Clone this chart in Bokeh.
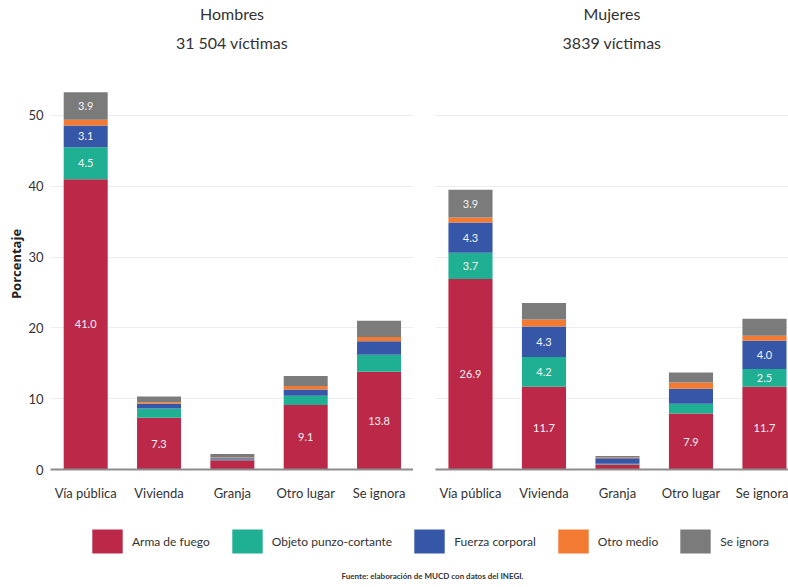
from bokeh.plotting import figure
from bokeh.models import (ColumnDataSource, FixedTicker, Range1d, Title, Legend,
                          LegendItem, Label)
from bokeh.layouts import row, column
from bokeh.core.properties import value
from bokeh.embed import file_html
from bokeh.resources import INLINE

# ---------------- data ----------------
categorias = ["Vía pública", "Vivienda", "Granja", "Otro lugar", "Se ignora"]
series = ["Arma de fuego", "Objeto punzo-cortante", "Fuerza corporal", "Otro medio", "Se ignora"]
colores = ["#BC2848", "#1FAF92", "#3656A8", "#F27A32", "#7B7B7B"]

arma_h = [41.0, 7.3, 1.3, 9.1, 13.8]
objeto_h = [4.5, 1.3, 0.1, 1.3, 2.4]
fuerza_h = [3.1, 0.7, 0.2, 0.9, 1.9]
otro_h = [0.8, 0.2, 0.1, 0.5, 0.6]
ignora_h = [3.9, 0.8, 0.5, 1.4, 2.3]

arma_m = [26.9, 11.7, 0.7, 7.9, 11.7]
objeto_m = [3.7, 4.2, 0.1, 1.4, 2.5]
fuerza_m = [4.3, 4.3, 0.8, 2.1, 4.0]
otro_m = [0.7, 1.0, 0.1, 0.9, 0.7]
ignora_m = [3.9, 2.3, 0.2, 1.4, 2.4]

titulos_h = ["Hombres", "31 504 víctimas"]
titulos_m = ["Mujeres", "3839 víctimas"]
y_ticks = [0, 10, 20, 30, 40, 50]
fuente = "Fuente: elaboración de MUCD  con datos del INEGI."
umbral_etiqueta = 2.5

FONT = "Lato"
keys = ["arma", "objeto", "fuerza", "otro", "ignora"]


def build_sources(vals):
    xs = list(range(len(categorias)))
    data = {"x": xs}
    for k, v in zip(keys, vals):
        data[k] = v
    lx, ly, lt = [], [], []
    for i in xs:
        base = 0.0
        for v in vals:
            val = v[i]
            if val >= umbral_etiqueta:
                lx.append(i)
                ly.append(base + val / 2.0)
                lt.append(f"{val:.1f}")
            base += val
    return ColumnDataSource(data), ColumnDataSource(dict(x=lx, y=ly, t=lt))


def panel(vals, titles, frame_w, x_start, x_end, left_border, show_y, title_offset):
    src, lab = build_sources(vals)
    p = figure(frame_width=frame_w, frame_height=411,
               x_range=Range1d(x_start, x_end),
               y_range=Range1d(0, 58.05),
               output_backend="svg", toolbar_location=None,
               min_border_left=left_border, min_border_right=0,
               min_border_top=0, min_border_bottom=36,
               title=titles[0])
    p.vbar_stack(keys, x="x", width=0.6, source=src,
                 fill_color=colores, line_color=None)
    p.text(x="x", y="y", text="t", source=lab, text_align="center",
           text_baseline="middle", text_color="#F4F4F4",
           text_font=value(FONT), text_font_size="11px")
    p.title.text_font = FONT
    p.title.text_font_size = "16px"
    p.title.text_font_style = "normal"
    p.title.text_color = "#333333"
    p.title.align = "center"
    p.title.offset = title_offset
    p.title.standoff = 3
    t2 = Title(text=titles[1], align="center", text_font=FONT, text_font_size="16px",
               text_font_style="normal", text_color="#333333", offset=title_offset,
               standoff=13)
    p.add_layout(t2, "above")

    p.outline_line_color = None
    p.background_fill_color = "white"
    p.border_fill_color = "white"
    p.xgrid.grid_line_color = None
    p.ygrid.ticker = FixedTicker(ticks=y_ticks)
    p.ygrid.grid_line_color = "#EDEDED"
    p.ygrid.grid_line_width = 1

    xa = p.xaxis[0]
    xa.ticker = FixedTicker(ticks=list(range(len(categorias))))
    xa.major_label_overrides = {i: c for i, c in enumerate(categorias)}
    xa.axis_line_color = "#8C8C8C"
    xa.axis_line_width = 2
    xa.major_tick_line_color = None
    xa.minor_tick_line_color = None
    xa.major_tick_out = 0
    xa.major_tick_in = 0
    xa.minor_tick_out = 0
    xa.major_label_text_font = FONT
    xa.major_label_text_font_size = "13px"
    xa.major_label_text_color = "#333333"
    xa.major_label_standoff = 15

    ya = p.yaxis[0]
    if show_y:
        ya.ticker = FixedTicker(ticks=y_ticks)
        ya.axis_line_color = None
        ya.major_tick_line_color = None
        ya.minor_tick_line_color = None
        ya.major_tick_out = 0
        ya.major_tick_in = 0
        ya.minor_tick_out = 0
        ya.major_label_text_font = FONT
        ya.major_label_text_font_size = "13px"
        ya.major_label_text_color = "#333333"
        ya.major_label_standoff = 7
        ya.axis_label = "Porcentaje"
        ya.axis_label_text_font = "Open Sans"
        ya.axis_label_text_font_size = "13px"
        ya.axis_label_text_font_style = "bold"
        ya.axis_label_text_color = "#222222"
        ya.axis_label_standoff = 0
    else:
        ya.visible = False
    return p


p1 = panel([arma_h, objeto_h, fuerza_h, otro_h, ignora_h], titulos_h,
           363, -0.48, 4.47, 50, True, 5)
p2 = panel([arma_m, objeto_m, fuerza_m, otro_m, ignora_m], titulos_m,
           353, -0.476, 4.327, 22, False, -10)

# legend + footer panel
p3 = figure(width=788, height=76, output_backend="svg", toolbar_location=None,
            x_range=Range1d(0, 1), y_range=Range1d(0, 1),
            min_border=0, outline_line_color=None)
p3.axis.visible = False
p3.grid.visible = False
items = []
for s, c in zip(series, colores):
    r = p3.vbar(x=[0.5], top=[0], bottom=[0], width=0.0, fill_color=c, line_color=None)
    items.append(LegendItem(label=s, renderers=[r]))
leg = Legend(items=items, orientation="horizontal", location=(88, 25),
             glyph_width=38, glyph_height=30, label_standoff=6, spacing=18,
             padding=0, margin=0, border_line_color=None,
             background_fill_alpha=0, label_text_font=FONT,
             label_text_font_size="12px", label_text_color="#333333",
             label_height=30)
p3.add_layout(leg, "center")
p3.add_layout(Label(x=433, y=6, x_units="screen", y_units="screen", text=fuente,
                    text_align="center", text_baseline="middle",
                    text_font=FONT, text_font_size="8px", text_font_style="bold",
                    text_color="#333333"))

layout = column(row(p1, p2, spacing=0), p3, spacing=0)
open("out.html", "w").write(file_html(layout, INLINE))
